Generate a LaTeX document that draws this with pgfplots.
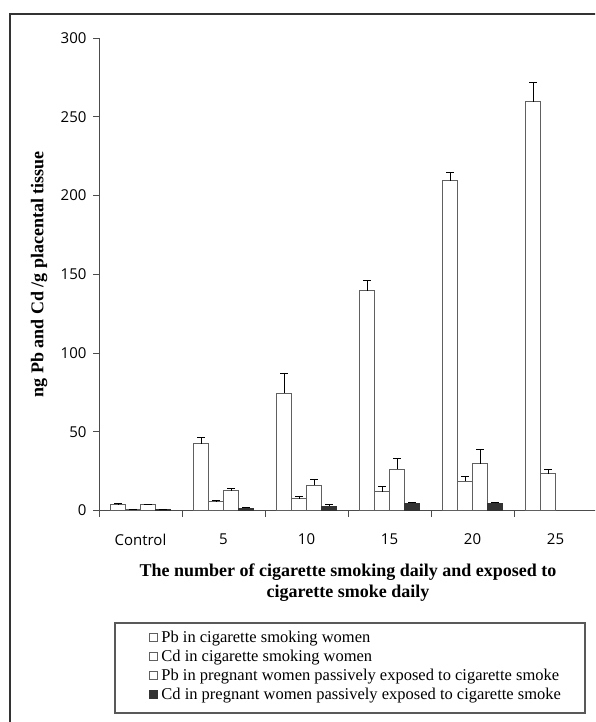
\documentclass[border=0pt]{standalone}
\usepackage{fontspec}
\setmainfont{Liberation Serif}
\newfontfamily\ticksans{Open Sans}
\usepackage{pgfplots}
\pgfplotsset{compat=1.18}
\definecolor{bardark}{HTML}{333333}
\definecolor{edge}{HTML}{606060}
\pgfplotsset{sqlegend/.style={legend image code/.code={\draw[##1,line width=0.7pt] (0pt,-4pt) rectangle (8pt,4pt);}},
  errs/.style={error bars/y dir=plus, error bars/y explicit,
    error bars/error mark options={rotate=90, mark size=4pt, black, line width=0.8pt},
    error bars/error bar style={black, line width=0.8pt}}}
\begin{document}
\begin{tikzpicture}[x=1pt,y=1pt]
\useasboundingbox (0,0) rectangle (595,722);
\clip (0,0) rectangle (595,722);
\draw[line width=1.4pt, black!80] (10,-20) rectangle (640,708);
\begin{axis}[
  at={(99pt,211.5pt)}, anchor=south west,
  scale only axis, width=498pt, height=472.5pt,
  xmin=0, xmax=6, ymin=0, ymax=300,
  axis lines=left, axis line style={-, black!70, line width=0.9pt},
  xtick={0,1,2,3,4,5,6}, xticklabels={Control,5,10,15,20,25},
  x tick label as interval,
  ytick={0,50,100,150,200,250,300},
  tick align=outside, major tick length=6pt,
  tick style={black!70, line width=0.9pt},
  ticklabel style={font=\ticksans\fontsize{15}{17}\selectfont},
  /pgf/number format/assume math mode=true,
  yticklabel style={xshift=-3pt},
  xticklabel style={yshift=-14pt},
  xlabel={The number of cigarette smoking daily and exposed to\\cigarette smoke daily},
  xlabel style={font=\bfseries\fontsize{18}{21}\selectfont, align=center, at={(axis description cs:0.5,-0.1534)}, anchor=center},
  ylabel={ng Pb and Cd /g placental tissue},
  ylabel style={font=\bfseries\fontsize{18}{20}\selectfont, at={(axis description cs:-0.1205,0.5)}, anchor=center},
  ybar, bar width=15pt,
  legend style={at={(axis description cs:0.1004,-0.2508)}, anchor=north west, draw=none, fill=none,
    font=\fontsize{16.5}{19}\selectfont, inner sep=0pt, row sep=3.2pt,
    nodes={inner sep=1.5pt}},
  legend cell align=left,
]
\addplot[draw=edge, fill=white, line width=1pt, bar shift=-22.5pt, sqlegend, errs] coordinates {
  (0.5,3.6) +- (0,0.6)
  (1.5,42.5) +- (0,3.8)
  (2.5,74.5) +- (0,12.8)
  (3.5,139.5) +- (0,6.5)
  (4.5,209.3) +- (0,5.2)
  (5.5,259.6) +- (0,12)
};
\addplot[draw=edge, fill=white, line width=1pt, bar shift=-7.5pt, sqlegend, errs] coordinates {
  (0.5,0.5) +- (0,0.3)
  (1.5,5.5) +- (0,0.8)
  (2.5,7.5) +- (0,1.2)
  (3.5,12) +- (0,3)
  (4.5,18.7) +- (0,3)
  (5.5,23.3) +- (0,3)
};
\addplot[draw=edge, fill=white, line width=1pt, bar shift=7.5pt, sqlegend, errs] coordinates {
  (0.5,3.5) +- (0,0.6)
  (1.5,12.5) +- (0,1.5)
  (2.5,16) +- (0,4)
  (3.5,26.3) +- (0,6.5)
  (4.5,29.7) +- (0,8.9)
};
\addplot[draw=black!80, fill=bardark, line width=1pt, bar shift=22.5pt, sqlegend, errs] coordinates {
  (0.5,0.5) +- (0,0.2)
  (1.5,1.5) +- (0,0.7)
  (2.5,2.7) +- (0,1.3)
  (3.5,4.6) +- (0,0.7)
  (4.5,4.6) +- (0,0.7)
};
\legend{\hspace{2pt}Pb in cigarette smoking women, \hspace{2pt}Cd in cigarette smoking women, \hspace{2pt}Pb in pregnant women passively exposed to cigarette smoke, \hspace{2pt}Cd in pregnant women passively exposed to cigarette smoke}
\end{axis}
\draw[line width=1.2pt, black!65] (115,9) rectangle (585,99);
\end{tikzpicture}
\end{document}
